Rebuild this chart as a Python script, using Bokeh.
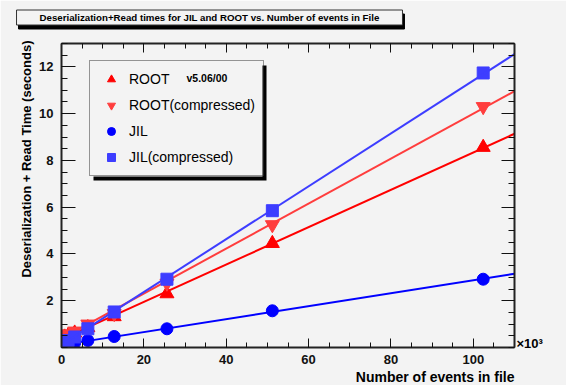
import numpy as np
from bokeh.plotting import figure
from bokeh.models import (LinearAxis, SingleIntervalTicker, FixedTicker, Range1d, Label,
                          BoxAnnotation, Legend, LegendItem, Title, CustomJSTickFormatter)
from bokeh.embed import file_html
from bokeh.resources import INLINE

# ---- data (events in thousands, times in seconds) ----
n_events = [0.2, 0.4, 0.8, 1.6, 3.2, 6.4, 12.8, 25.6, 51.2, 102.4]
root_t = [0.40, 0.42, 0.45, 0.50, 0.62, 0.85, 1.32, 2.30, 4.45, 8.56]
root_comp_t = [0.48, 0.50, 0.52, 0.58, 0.70, 1.00, 1.45, 2.75, 5.25, 10.30]
jil_t = [0.10, 0.10, 0.12, 0.15, 0.20, 0.30, 0.47, 0.80, 1.57, 2.92]
jil_comp_t = [0.20, 0.22, 0.25, 0.30, 0.45, 0.80, 1.52, 2.92, 5.85, 11.74]

x_major = [0, 20, 40, 60, 80, 100]
y_major = [2, 4, 6, 8, 10, 12]

title_text = "Deserialization+Read times for JIL and ROOT vs. Number of events in File"
x_title = "Number of events in file"
y_title = "Deserialization + Read Time (seconds)"

BG = "#f3f3f3"
FONT = "Liberation Sans"

p = figure(width=566, height=385, x_range=Range1d(0, 110), y_range=Range1d(0, 13),
           output_backend="svg", toolbar_location=None, title=None,
           min_border_left=61, min_border_right=52, min_border_top=43, min_border_bottom=37,
           background_fill_color=BG, border_fill_color=BG, outline_line_color=None)
p.xgrid.visible = False
p.ygrid.visible = False

x_ticker = SingleIntervalTicker(interval=20, num_minor_ticks=4)
y_minor = [i * 0.5 for i in range(0, 27)]
y_ticker = FixedTicker(ticks=y_major, minor_ticks=y_minor)


def style_axis(ax, labels=True, major_len=9, minor_len=5):
    ax.axis_line_color = "#222222"
    ax.axis_line_width = 2
    ax.major_tick_in = major_len
    ax.major_tick_out = 0
    ax.minor_tick_in = minor_len
    ax.minor_tick_out = 0
    ax.major_tick_line_color = "#111111"
    ax.minor_tick_line_color = "#111111"
    ax.major_tick_line_width = 1
    ax.minor_tick_line_width = 1
    if labels:
        ax.major_label_text_font = FONT
        ax.major_label_text_font_style = "bold"
        ax.major_label_text_font_size = "13px"
        ax.major_label_text_color = "#111111"
    else:
        ax.formatter = CustomJSTickFormatter(code="return ''")
        ax.major_label_text_font_size = "1px"
        ax.major_label_standoff = 0


xa = p.xaxis[0]
xa.ticker = x_ticker
style_axis(xa, True, 9, 5)
xa.major_label_standoff = 7

ya = p.yaxis[0]
ya.ticker = y_ticker
style_axis(ya, True, 14, 6)
ya.major_label_standoff = 8

top_ax = LinearAxis(ticker=x_ticker)
style_axis(top_ax, False, 9, 5)
p.add_layout(top_ax, "above")
right_ax = LinearAxis(ticker=y_ticker)
style_axis(right_ax, False, 13, 6)
p.add_layout(right_ax, "right")

# ---- series ----
x = np.array(n_events)
x_end = 110
series = [
    ("ROOT", root_t, "#ff0000", "triangle", 14),
    ("ROOT(compressed)", root_comp_t, "#ff3d3d", "inverted_triangle", 14),
    ("JIL", jil_t, "#0000ff", "circle", 12),
    ("JIL(compressed)", jil_comp_t, "#3d3dff", "square", 12),
]
items = []
for name, yvals, color, marker, size in series:
    yv = np.array(yvals)
    sc = p.scatter(x, yv, marker=marker, size=size, fill_color=color, line_color=color)
    slope, icpt = np.polyfit(x, yv, 1)
    xs = [x.min(), x_end]
    p.line(xs, [icpt + slope * xs[0], icpt + slope * xs[1]], line_color=color, line_width=2)
    items.append(LegendItem(label=name, renderers=[sc]))


def screen_box(l, r, t, b, **kw):
    return BoxAnnotation(left=l, right=r, top=t, bottom=b,
                         left_units="screen", right_units="screen",
                         top_units="screen", bottom_units="screen", **kw)


# ---- legend: shadow, fill, entries (frame-relative screen coords) ----
p.add_layout(screen_box(32, 205, 282, 167, fill_color="#000000", fill_alpha=1, line_color=None))
p.add_layout(screen_box(28, 201, 285, 171, fill_color=BG, fill_alpha=1, line_color=None))
legend = Legend(items=items, location=(28, 171), margin=0, padding=8, spacing=6,
                glyph_height=20, glyph_width=26, label_standoff=5, label_height=20,
                label_text_font=FONT, label_text_font_size="14px", label_text_color="#000000",
                border_line_color="#333333", border_line_width=1, background_fill_alpha=0)
p.add_layout(legend)
p.add_layout(Label(x=125, y=270, x_units="screen", y_units="screen", text="v5.06/00",
                   text_align="left", text_baseline="middle", text_font=FONT,
                   text_font_style="bold", text_font_size="10.5px", text_color="#000000",
                   level="overlay"))

# ---- main title box (labels in the top panel): shadow nearest the frame, title outside ----
title_pad = dict(left=23, right=23, top=2, bottom=2)
shadow_lbl = Label(x=150, y=22, x_units="screen", y_units="screen", text=title_text,
                   text_align="center", text_baseline="middle", text_font=FONT,
                   text_font_style="bold", text_font_size="9.7px", text_color="#000000",
                   background_fill_color="#000000", border_line_color="#000000",
                   border_line_width=1)
title_lbl = Label(x=148, y=11, x_units="screen", y_units="screen", text=title_text,
                  text_align="center", text_baseline="middle", text_font=FONT,
                  text_font_style="bold", text_font_size="9.7px", text_color="#000000",
                  background_fill_color=BG, border_line_color="#333333", border_line_width=1)
for lbl in (title_lbl, shadow_lbl):
    try:
        lbl.padding = title_pad
    except Exception:
        lbl.padding = 3
p.above = [top_ax, shadow_lbl, title_lbl]

# ---- axis titles ----
xt = Title(text=x_title, align="right", standoff=1, text_font=FONT,
           text_font_style="bold", text_font_size="14px", text_color="#000000")
p.add_layout(xt, "below")
yt = Title(text=y_title, align="right", standoff=6, offset=-3, text_font=FONT,
           text_font_style="bold", text_font_size="13px", text_color="#000000")
p.add_layout(yt, "left")

# x10^3 exponent in right panel
p.add_layout(Label(x=2, y=4, x_units="screen", y_units="screen", text="\u00d710\u00b3",
                   text_align="left", text_baseline="middle", text_font=FONT,
                   text_font_style="bold", text_font_size="13px", text_color="#000000"),
             "right")

open("out.html", "w").write(file_html(p, INLINE))
